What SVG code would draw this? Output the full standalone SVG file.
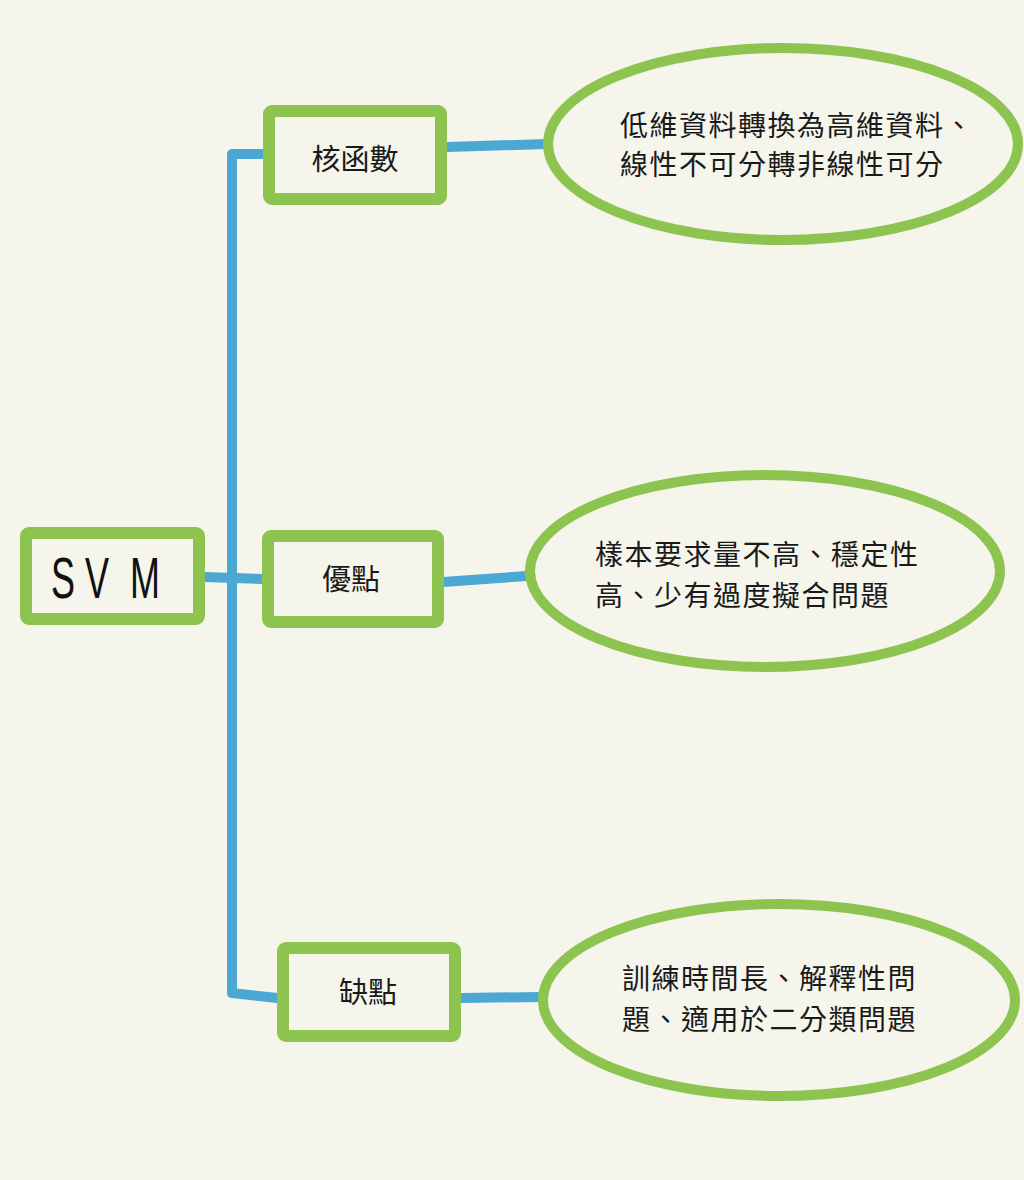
<svg xmlns="http://www.w3.org/2000/svg" width="1024" height="1180" viewBox="0 0 1024 1180">
<style>
.box{fill:none;stroke:#8DC44F;stroke-width:12;stroke-linejoin:round}
.oval{fill:none;stroke:#8DC44F;stroke-width:10}
.conn{fill:none;stroke:#4BA8D3;stroke-width:10;stroke-linecap:round;stroke-linejoin:round}
.lbl{font-family:"Noto Sans CJK TC","Noto Sans CJK SC",sans-serif;font-size:29px;fill:#1a1a1a;text-anchor:middle}
.txt{font-family:"Noto Sans CJK TC","Noto Sans CJK SC",sans-serif;font-size:28px;fill:#1a1a1a;letter-spacing:1.5px}
.svm{font-family:"Liberation Sans",sans-serif;font-size:58px;fill:#111;letter-spacing:16px}
</style>
<rect width="1024" height="1180" fill="#F5F5EC"/>
<g id="connectors">
<path class="conn" d="M262,154 L232,154 L232,993 L277,998"/>
<path class="conn" d="M204,577 L262,579"/>
<path class="conn" d="M448,147 L547,144"/>
<path class="conn" d="M443,582 L527,576"/>
<path class="conn" d="M462,998 L538,997"/>
</g>
<g id="svm">
<rect class="box" x="26" y="533" width="173" height="86" rx="3"/>
<text class="svm" transform="translate(51,598) scale(0.62,1)">SV<tspan dx="18">M</tspan></text>
</g>
<g id="kernel">
<rect class="box" x="269" y="111" width="172" height="88" rx="3"/>
<text class="lbl" x="355" y="170">核函數</text>
</g>
<g id="pros">
<rect class="box" x="268" y="536" width="170" height="86" rx="3"/>
<text class="lbl" x="351" y="590">優點</text>
</g>
<g id="cons">
<rect class="box" x="283" y="948" width="172" height="88" rx="3"/>
<text class="lbl" x="368" y="1003">缺點</text>
</g>
<g id="kernel-desc">
<ellipse class="oval" cx="783" cy="144" rx="235" ry="96"/>
<text class="txt" x="620" y="136">低維資料轉換為高維資料、</text>
<text class="txt" x="620" y="175">線性不可分轉非線性可分</text>
</g>
<g id="pros-desc">
<ellipse class="oval" cx="765" cy="571" rx="235" ry="96"/>
<text class="txt" x="595" y="565">樣本要求量不高、穩定性</text>
<text class="txt" x="595" y="606">高、少有過度擬合問題</text>
</g>
<g id="cons-desc">
<ellipse class="oval" cx="779" cy="1000" rx="236" ry="96"/>
<text class="txt" x="622" y="989">訓練時間長、解釋性問</text>
<text class="txt" x="622" y="1030">題、適用於二分類問題</text>
</g>
</svg>
